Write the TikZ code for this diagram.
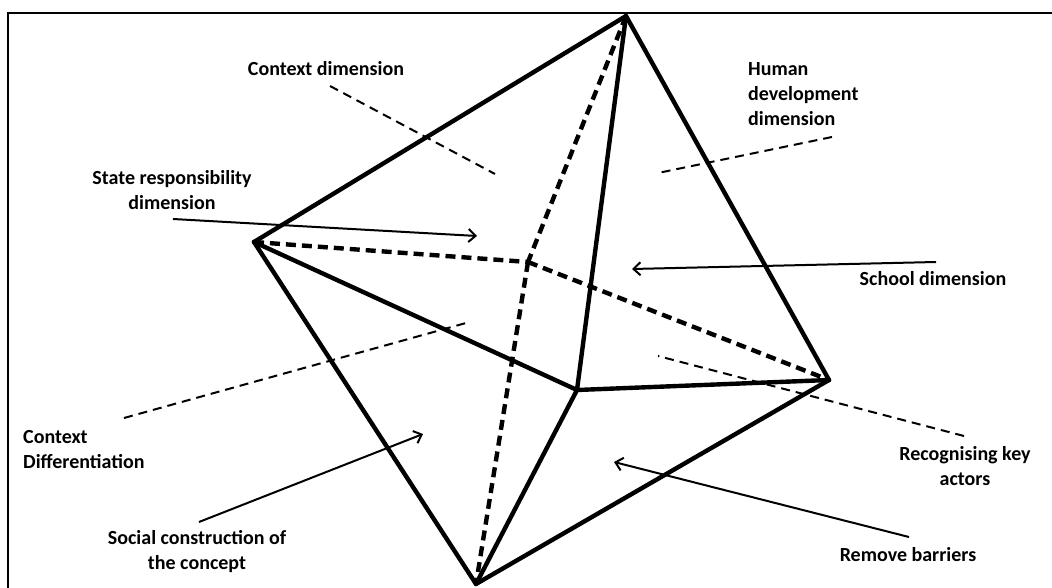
\documentclass[tikz,border=0pt]{standalone}
\usepackage{fontspec}
\setmainfont{Carlito}
\usetikzlibrary{arrows.meta}
\tikzset{
  edge/.style={line width=4.4pt, line join=round, line cap=round},
  hidden/.style={line width=4.4pt, dash pattern=on 10pt off 6pt},
  leader/.style={line width=2pt, dash pattern=on 9pt off 6pt},
  pointer/.style={line width=2pt, -{Straight Barb[length=7pt,width=13pt,line width=2pt]}},
  lbl/.style={inner sep=0pt, font={\fontsize{20}{25}\selectfont\bfseries}},
  frameline/.style={line width=2.8pt}
}
\begin{document}
\begin{tikzpicture}[x=1pt,y=-1pt]
\useasboundingbox (0,0) rectangle (1052,588);
% frame
\coordinate (fTR) at (1052,13);
\coordinate (fTL) at (8,13);
\coordinate (fBL) at (8,588);
\draw[frameline] (fTR) -- (fTL) -- (fBL);
% vertices
\coordinate (T) at (626,16);
\coordinate (L) at (254,242);
\coordinate (R) at (829,380);
\coordinate (B) at (476,584);
\coordinate (F) at (577,390);
\coordinate (K) at (528,262);
% hidden edges
\draw[hidden] (T) -- (K);
\draw[hidden] (K) -- (B);
\draw[hidden] (L) -- (K);
\draw[hidden] (K) -- (R);
% visible edges
\draw[edge] (L) -- (T) -- (R);
\draw[edge] (T) -- (F);
\draw[edge] (L) -- (F) -- (R);
\draw[edge] (L) -- (B) -- (R);
\draw[edge] (F) -- (B);
% labels
\node[lbl] (cd) at (326,69) {Context dimension};
\node[lbl, anchor=west, align=left] (hd) at (748,94) {Human\\development\\dimension};
\node[lbl, align=center] (sr) at (172,190) {State responsibility\\dimension};
\node[lbl] (sd) at (933,279) {School dimension};
\node[lbl, anchor=west, align=left] (cx) at (23,450) {Context\\Differentiation};
\node[lbl, align=center] (sc) at (197,552) {Social construction of\\the concept};
\node[lbl] (rb) at (908,555) {Remove barriers};
\node[lbl, align=center] (rk) at (965,466) {Recognising key\\actors};
% connector ends
\coordinate (cd1) at (330,86);   \coordinate (cd2) at (495,174);
\coordinate (hd1) at (832,137);  \coordinate (hd2) at (658,173);
\coordinate (sr1) at (173,219);  \coordinate (sr2) at (477,236);
\coordinate (sd1) at (936,262);  \coordinate (sd2) at (632,269);
\coordinate (cx1) at (124,418);  \coordinate (cx2) at (466,323);
\coordinate (sc1) at (199,522);  \coordinate (sc2) at (423,434);
\coordinate (rk1) at (964,436);  \coordinate (rk2) at (658,356);
\coordinate (rb1) at (909,537);  \coordinate (rb2) at (614,462);
% connectors
\draw[leader] (cd1) -- (cd2);
\draw[leader] (hd1) -- (hd2);
\draw[pointer] (sr1) -- (sr2);
\draw[pointer] (sd1) -- (sd2);
\draw[leader] (cx1) -- (cx2);
\draw[pointer] (sc1) -- (sc2);
\draw[leader] (rk1) -- (rk2);
\draw[pointer] (rb1) -- (rb2);
\end{tikzpicture}
\end{document}
